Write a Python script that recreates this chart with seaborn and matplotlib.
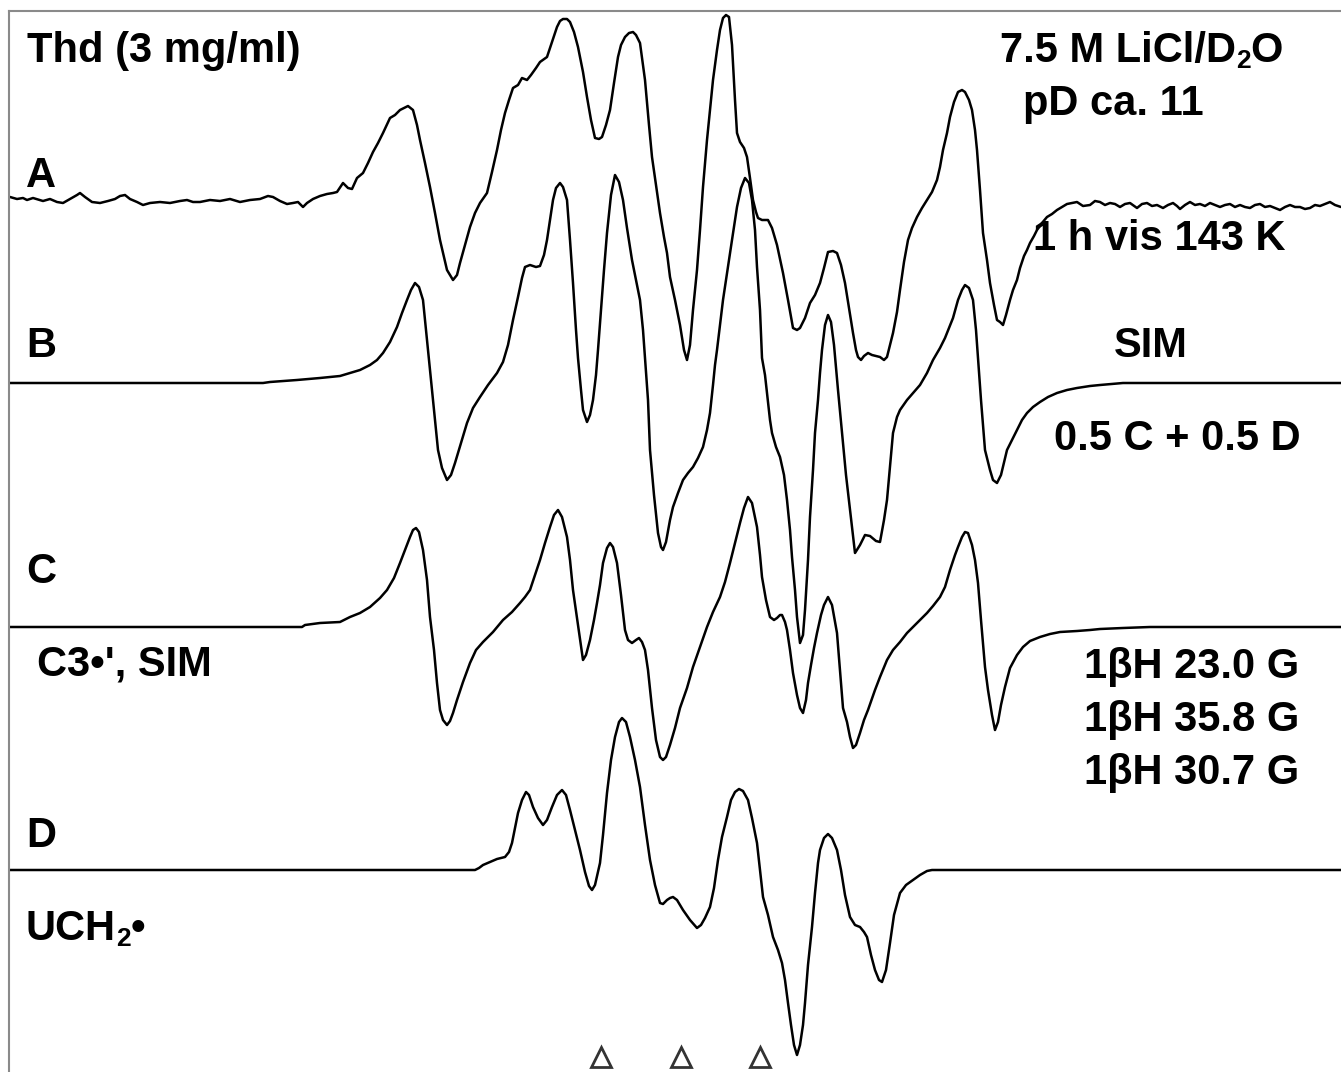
import numpy as np
import pandas as pd
import matplotlib
matplotlib.use("Agg")
import matplotlib.pyplot as plt
import seaborn as sns

# EPR first-derivative spectra, (field, signal) pairs; field in plot units,
# signal relative to each trace's own baseline.
spectrum_a = [
    (10, 6), (17, 4), (23, 5), (27, 3), (33, 5), (43, 2), (50, 4), (57, 1), (63, 0), (70, 4),
    (77, 8), (80, 10), (85, 6), (92, 1), (100, 0), (108, 2), (115, 4), (120, 7), (125, 8), (130, 4),
    (137, 1), (143, -2), (150, 0), (160, 1), (170, 0), (180, 2), (187, 3), (193, 1), (200, 1), (210, 3),
    (220, 2), (230, 4), (240, 1), (250, 3), (260, 4), (268, 7), (273, 6), (280, 2), (287, -1), (293, 0),
    (298, 1), (303, -4), (307, 0), (313, 4), (320, 7), (327, 9), (333, 10), (337, 11), (343, 20), (348, 15),
    (352, 14), (357, 25), (363, 30), (368, 40), (373, 51), (378, 60), (383, 70), (390, 85), (395, 88), (400, 93),
    (404, 95), (408, 97), (413, 93), (417, 78), (420, 63), (425, 40), (430, 16), (435, -10), (440, -37), (447, -67),
    (453, -77), (457, -72), (460, -60), (465, -42), (470, -24), (475, -10), (480, 0), (487, 10), (492, 31), (497, 53),
    (501, 73), (505, 90), (509, 103), (513, 115), (518, 118), (522, 125), (527, 123), (531, 128), (536, 135), (540, 141),
    (547, 146), (552, 161), (557, 176), (560, 182), (563, 184), (567, 184), (570, 181), (574, 171), (578, 156), (583, 131),
    (587, 106), (591, 83), (595, 65), (599, 64), (602, 66), (606, 78), (610, 93), (614, 120), (618, 146), (621, 158),
    (625, 166), (629, 170), (633, 171), (636, 168), (640, 160), (645, 123), (649, 78), (652, 46), (656, 18), (660, -10),
    (664, -34), (667, -50), (670, -74), (675, -97), (680, -122), (684, -147), (687, -157), (690, -142), (693, -107), (697, -67),
    (700, -27), (703, 16), (707, 63), (710, 93), (713, 123), (717, 153), (720, 173), (723, 185), (726, 188), (729, 186),
    (732, 158), (735, 103), (737, 70), (740, 61), (744, 55), (747, 46), (750, 25), (753, 3), (756, -9), (758, -15),
    (762, -17), (768, -17), (772, -25), (777, -42), (783, -70), (788, -97), (793, -125), (797, -127), (800, -125), (805, -115),
    (810, -100), (815, -92), (820, -80), (824, -65), (828, -49), (833, -48), (837, -50), (841, -62), (845, -80), (849, -105),
    (853, -130), (856, -147), (858, -154), (861, -157), (864, -153), (868, -150), (872, -152), (876, -153), (880, -154), (884, -157),
    (887, -154), (890, -142), (893, -130), (897, -109), (900, -87), (904, -59), (908, -37), (912, -25), (917, -14), (922, -5),
    (927, 3), (932, 11), (937, 23), (940, 36), (943, 53), (947, 70), (950, 86), (954, 101), (958, 111), (962, 113),
    (965, 111), (969, 103), (972, 93), (975, 73), (977, 53), (980, 13), (983, -30), (987, -57), (990, -80), (994, -102),
    (997, -117), (1000, -119), (1003, -122), (1006, -112), (1010, -97), (1013, -87), (1017, -77), (1020, -65), (1024, -53), (1027, -47),
    (1030, -40), (1034, -33), (1037, -27), (1042, -20), (1047, -14), (1052, -11), (1057, -7), (1062, -4), (1067, -1), (1072, 0),
    (1077, 1), (1083, -3), (1090, -2), (1095, 2), (1100, 1), (1105, -2), (1110, 0), (1115, -1), (1120, -4), (1125, -1),
    (1130, 0), (1137, -5), (1142, -1), (1147, 0), (1152, -3), (1157, -2), (1163, -5), (1168, -2), (1173, 0), (1177, -3),
    (1180, -6), (1185, -2), (1190, 1), (1195, -2), (1200, -1), (1205, -3), (1210, 0), (1215, -2), (1220, -4), (1225, -2),
    (1230, -1), (1235, -4), (1240, -2), (1245, -4), (1250, -5), (1255, -2), (1260, -1), (1265, -4), (1270, -3), (1275, -5),
    (1280, -7), (1285, -4), (1290, -2), (1295, -4), (1300, -4), (1305, -6), (1310, -5), (1315, -2), (1320, -3), (1325, -1),
    (1330, 1), (1335, -2), (1341, -4),
]

spectrum_b = [
    (10, 0), (263, 0), (270, 1), (297, 3), (320, 5), (340, 7), (350, 10), (360, 13), (370, 18), (377, 23),
    (383, 30), (390, 41), (397, 56), (402, 70), (407, 83), (411, 93), (415, 100), (419, 96), (423, 83), (426, 53),
    (428, 33), (431, 3), (433, -17), (436, -47), (438, -67), (442, -85), (447, -97), (451, -92), (455, -80), (461, -60),
    (467, -40), (473, -25), (480, -14), (488, -2), (497, 10), (503, 21), (508, 38), (513, 63), (518, 86), (522, 105),
    (525, 116), (530, 118), (536, 116), (540, 117), (544, 128), (547, 143), (550, 163), (553, 183), (556, 195), (560, 200),
    (563, 196), (567, 183), (570, 143), (573, 100), (576, 53), (578, 25), (581, -7), (583, -27), (587, -39), (590, -32),
    (593, -17), (596, 8), (598, 33), (601, 73), (604, 113), (607, 150), (611, 188), (615, 208), (619, 201), (623, 183),
    (627, 155), (632, 123), (636, 103), (640, 83), (643, 53), (645, 25), (648, -17), (650, -67), (654, -112), (658, -150),
    (661, -164), (663, -167), (666, -159), (670, -137), (673, -124), (678, -110), (683, -97), (688, -90), (693, -84), (698, -75),
    (703, -64), (707, -47), (710, -30), (713, -2), (715, 18), (717, 33), (720, 58), (723, 83), (727, 110), (732, 143),
    (737, 176), (741, 195), (745, 205), (749, 200), (752, 183), (755, 153), (757, 116), (760, 73), (762, 25), (765, 8),
    (767, -10), (770, -37), (772, -50), (776, -64), (780, -74), (784, -92), (787, -117), (790, -147), (792, -174), (795, -207),
    (797, -234), (800, -260), (803, -252), (805, -227), (808, -177), (810, -134), (813, -87), (815, -50), (818, -17), (820, 10),
    (822, 33), (825, 58), (828, 68), (831, 61), (834, 38), (838, -7), (842, -50), (846, -92), (850, -127), (855, -170),
    (860, -162), (865, -152), (870, -153), (876, -158), (880, -159), (884, -137), (887, -117), (890, -84), (893, -50), (897, -34),
    (900, -27), (907, -17), (913, -10), (920, -2), (927, 10), (933, 23), (940, 35), (945, 45), (953, 65), (958, 83),
    (962, 93), (965, 98), (969, 95), (973, 83), (976, 53), (978, 25), (981, -17), (985, -67), (990, -87), (993, -97),
    (997, -100), (1001, -92), (1007, -67), (1012, -57), (1017, -47), (1022, -37), (1027, -30), (1033, -24), (1040, -19), (1048, -14),
    (1057, -10), (1067, -7), (1077, -5), (1090, -3), (1100, -2), (1112, -1), (1123, 0), (1341, 0),
]

spectrum_c = [
    (10, 0), (302, 0), (305, 2), (320, 4), (340, 5), (350, 10), (360, 14), (370, 20), (380, 29), (387, 37),
    (394, 49), (400, 64), (405, 77), (410, 90), (413, 97), (416, 99), (419, 95), (423, 77), (427, 47), (430, 10),
    (434, -23), (437, -56), (440, -83), (443, -93), (447, -98), (450, -94), (453, -86), (457, -73), (463, -55), (470, -36),
    (476, -23), (483, -15), (493, -5), (503, 7), (512, 15), (520, 24), (525, 30), (530, 37), (535, 52), (540, 67),
    (545, 84), (550, 100), (554, 112), (558, 117), (562, 110), (567, 90), (570, 67), (573, 37), (578, 2), (583, -33),
    (586, -28), (590, -13), (594, 7), (597, 24), (600, 42), (603, 64), (607, 79), (610, 84), (613, 80), (617, 64),
    (621, 32), (625, -3), (628, -13), (632, -16), (636, -13), (639, -11), (642, -15), (645, -23), (648, -43), (652, -81),
    (656, -113), (660, -130), (663, -133), (666, -130), (670, -118), (675, -101), (680, -81), (687, -61), (693, -40), (700, -20),
    (707, 0), (713, 15), (720, 30), (725, 45), (730, 64), (735, 84), (740, 104), (744, 119), (748, 130), (752, 124),
    (757, 100), (760, 72), (762, 50), (766, 27), (770, 10), (774, 7), (777, 9), (780, 12), (782, 12), (785, 5),
    (787, -3), (790, -23), (793, -46), (797, -68), (800, -81), (803, -86), (806, -73), (808, -56), (811, -38), (814, -21),
    (817, -6), (821, 12), (824, 22), (828, 30), (832, 22), (837, -6), (840, -43), (843, -81), (847, -95), (850, -110),
    (853, -121), (856, -118), (860, -106), (864, -93), (868, -83), (875, -63), (880, -50), (887, -33), (893, -23), (900, -15),
    (907, -6), (913, 0), (920, 7), (927, 14), (933, 21), (940, 30), (945, 40), (950, 57), (955, 72), (958, 80),
    (962, 90), (965, 95), (968, 94), (972, 82), (975, 67), (978, 44), (981, 7), (985, -40), (988, -63), (992, -88),
    (995, -103), (998, -95), (1001, -78), (1005, -60), (1010, -41), (1017, -28), (1023, -20), (1030, -14), (1040, -10), (1050, -7),
    (1060, -5), (1077, -4), (1090, -3), (1100, -2), (1123, -1), (1150, 0), (1341, 0),
]

spectrum_d = [
    (10, 0), (475, 0), (479, 2), (483, 5), (490, 8), (497, 11), (505, 13), (509, 18), (512, 27), (515, 42),
    (518, 57), (522, 70), (526, 78), (529, 75), (533, 63), (538, 52), (543, 45), (547, 50), (552, 63), (557, 75),
    (562, 80), (566, 75), (570, 60), (575, 40), (580, 20), (585, -2), (589, -16), (592, -20), (595, -15), (600, 7),
    (603, 35), (607, 77), (611, 110), (615, 133), (619, 148), (622, 152), (626, 148), (630, 133), (635, 110), (640, 83),
    (645, 45), (650, 10), (655, -15), (660, -33), (663, -34), (667, -30), (670, -28), (673, -27), (677, -30), (683, -40),
    (690, -50), (697, -58), (701, -55), (705, -48), (710, -37), (714, -18), (718, 10), (722, 33), (727, 53), (731, 70),
    (735, 78), (739, 81), (743, 79), (748, 70), (752, 52), (757, 27), (760, 0), (763, -27), (768, -45), (773, -67),
    (778, -80), (782, -93), (785, -110), (788, -133), (791, -155), (794, -175), (797, -185), (800, -175), (803, -155), (805, -133),
    (808, -95), (812, -57), (815, -23), (818, 7), (820, 20), (824, 32), (828, 36), (832, 32), (837, 20), (841, 0),
    (845, -25), (850, -47), (855, -55), (860, -57), (864, -62), (867, -67), (871, -85), (875, -100), (879, -110), (882, -112),
    (886, -100), (890, -73), (894, -45), (900, -23), (906, -15), (913, -10), (920, -5), (927, -1), (932, 0), (1341, 0),
]

# Vertical stacking offsets of the four traces
trace_offsets = {"A": 869, "B": 689, "C": 445, "D": 202}

# Field positions flagged with open triangles under the bottom trace
marker_field = [601, 681, 760]

frames = []
for name, pairs in zip("ABCD", [spectrum_a, spectrum_b, spectrum_c, spectrum_d]):
    arr = np.array(pairs, dtype=float)
    frames.append(pd.DataFrame({"field": arr[:, 0],
                                "y": arr[:, 1] + trace_offsets[name],
                                "trace": name}))
df = pd.concat(frames, ignore_index=True)

sns.set_style("white")
plt.rcParams["font.family"] = ["Liberation Sans", "DejaVu Sans"]

W, H = 1341, 1072
fig = plt.figure(figsize=(W / 100, H / 100), dpi=100)
ax = fig.add_axes([9 / W, 0, (W - 9) / W, (H - 11) / H])
ax.set_xlim(9, W)
ax.set_ylim(0, H - 11)

for name in "ABCD":
    sns.lineplot(data=df[df["trace"] == name], x="field", y="y",
                 estimator=None, sort=False, color="black", lw=1.8, ax=ax)
for line in ax.get_lines():
    line.set_solid_joinstyle("round")
    line.set_solid_capstyle("round")

ax.plot(marker_field, [15] * len(marker_field), linestyle="none", marker="^",
        markersize=14, markerfacecolor="white", markeredgecolor="#333333",
        markeredgewidth=2.0, clip_on=False)

ax.set_xticks([])
ax.set_yticks([])
ax.set_xlabel("")
ax.set_ylabel("")
for side in ("right", "bottom"):
    ax.spines[side].set_visible(False)
for side in ("top", "left"):
    ax.spines[side].set_color("#8a8a8a")
    ax.spines[side].set_linewidth(1.5)

renderer = fig.canvas.get_renderer()
MAIN_SIZE, SUB_SIZE, SUB_DROP = 30, 19, 6


def label(x, y, parts):
    """Write a bold label from (text, is_subscript) pieces, left to right."""
    if isinstance(parts, str):
        parts = [(parts, False)]
    cx = x
    for text, sub in parts:
        size = SUB_SIZE if sub else MAIN_SIZE
        yy = y + (SUB_DROP if sub else 0)
        t = fig.text(cx / W, 1 - yy / H, text, fontsize=size, fontweight="bold",
                     va="baseline", ha="left", color="black")
        bb = t.get_window_extent(renderer=renderer)
        cx += bb.width


label(27, 62, "Thd (3 mg/ml)")
label(26, 187, "A")
label(26, 357, "B")
label(26, 583, "C")
label(37, 676, "C3•', SIM")
label(26, 847, "D")
label(26, 940, [("UCH", False), ("2", True), ("•", False)])
label(1000, 62, [("7.5 M LiCl/D", False), ("2", True), ("O", False)])
label(1023, 115, "pD ca. 11")
label(1033, 250, "1 h vis 143 K")
label(1114, 357, "SIM")
label(1054, 450, "0.5 C + 0.5 D")
label(1084, 678, "1βH 23.0 G")
label(1084, 731, "1βH 35.8 G")
label(1084, 784, "1βH 30.7 G")

fig.savefig("out.png", dpi=100)
